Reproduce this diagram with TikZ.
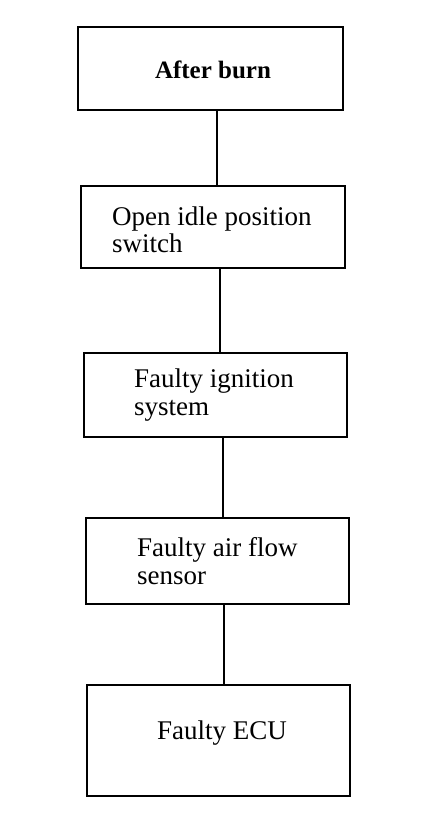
\documentclass[tikz,border=0pt]{standalone}
\usepackage{fontspec}
\setmainfont{Liberation Serif}
\begin{document}
\begin{tikzpicture}[x=1pt,y=-1pt,
  box/.style={draw, line width=1.6pt, rectangle, inner sep=0pt},
  lbl/.style={font=\fontsize{27}{27.5}\selectfont, inner sep=0pt, align=left, anchor=west},
  link/.style={line width=1.6pt}]
\useasboundingbox (0,0) rectangle (432,824);
\node[box, minimum width=265pt, minimum height=83pt] (b1) at (210.5,68.5) {};
\node[box, minimum width=264pt, minimum height=82pt] (b2) at (213,227) {};
\node[box, minimum width=263pt, minimum height=84pt] (b3) at (215.5,395) {};
\node[box, minimum width=263pt, minimum height=86pt] (b4) at (217.5,561) {};
\node[box, minimum width=263pt, minimum height=111pt] (b5) at (218.5,740.5) {};
\node[font=\fontsize{25}{25}\selectfont\bfseries, inner sep=0pt] (t1) at (213,70) {After burn};
\node[lbl] (t2) at (112,230) {Open idle position\\switch};
\node[lbl] (t3) at (134,395) {Faulty ignition\\system};
\node[lbl] (t4) at (137,561) {Faulty air flow\\sensor};
\node[font=\fontsize{27}{27}\selectfont, inner sep=0pt] (t5) at (222,733) {Faulty ECU};
\coordinate (c1) at (217,0);
\coordinate (c2) at (220,0);
\coordinate (c3) at (223,0);
\coordinate (c4) at (224,0);
\draw[link] (b1.south -| c1) -- (b2.north -| c1);
\draw[link] (b2.south -| c2) -- (b3.north -| c2);
\draw[link] (b3.south -| c3) -- (b4.north -| c3);
\draw[link] (b4.south -| c4) -- (b5.north -| c4);
\end{tikzpicture}
\end{document}
